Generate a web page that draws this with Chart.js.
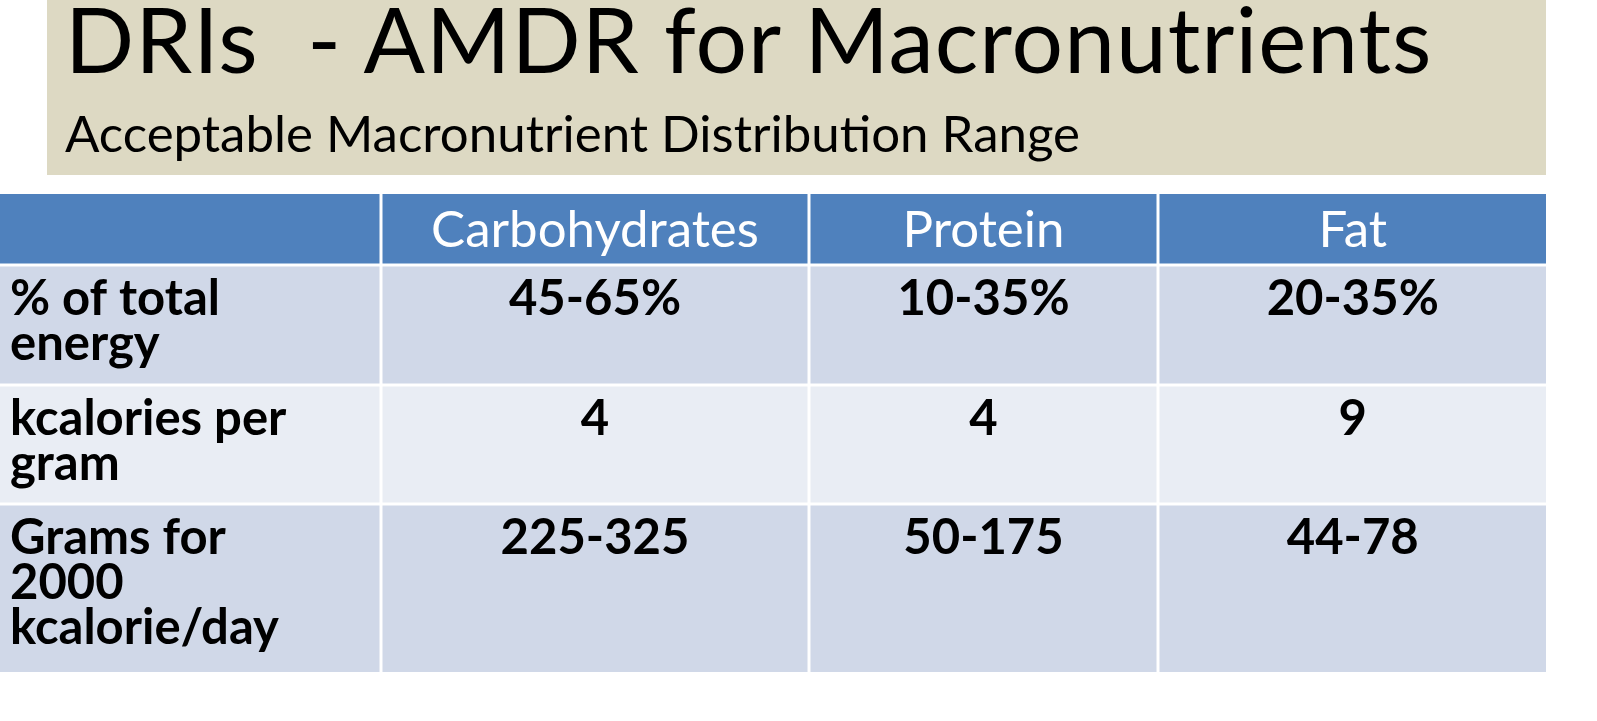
<!DOCTYPE html>
<html><head><meta charset="utf-8">
<script src="https://cdn.jsdelivr.net/npm/chart.js@4"></script>
<style>
html,body{margin:0;padding:0;background:#fff;width:1597px;height:721px;overflow:hidden;font-family:Lato,"Open Sans",sans-serif}
#banner{position:absolute;left:47px;top:0;width:1499px;height:175px;background:#ddd9c3}
#t{position:absolute;left:18px;top:-17px;font-size:91px;color:#000;white-space:pre;letter-spacing:1px}
#s{position:absolute;left:18px;top:102px;font-size:51px;color:#000;white-space:pre}
#c{position:absolute;left:0;top:0}
</style></head><body>
<div id="banner"><div id="t">DRIs  - AMDR for Macronutrients</div><div id="s">Acceptable Macronutrient Distribution Range</div></div>
<canvas id="c" width="1597" height="721" style="width:1597px;height:721px"></canvas>
<script>
const columns = ["", "Carbohydrates", "Protein", "Fat"];
const rowLabels = [["% of total","energy"],["kcalories per","gram"],["Grams for","2000","kcalorie/day"]];
const carbs = ["45-65%","4","225-325"];
const protein = ["10-35%","4","50-175"];
const fat = ["20-35%","9","44-78"];
const colEdges = [0,381,809,1158,1546];
const rowEdges = [194,265,385,504,672];
const gap = 3;
const headerColor = "#4f81bd", oddColor = "#d0d8e8", evenColor = "#e9edf4";

const tablePlugin = {
  id:'table',
  afterDraw(chart){
    const ctx = chart.ctx, xs = chart.scales.x, ys = chart.scales.y;
    const X = v=>xs.getPixelForValue(v), Y = v=>ys.getPixelForValue(v);
    const values = [carbs, protein, fat];
    for(let r=0;r<4;r++){
      for(let c=0;c<4;c++){
        const x0=X(colEdges[c])+(c>0?gap/2:0), x1=X(colEdges[c+1])-(c<3?gap/2:0);
        const y0=Y(rowEdges[r])+(r>0?gap/2:0), y1=Y(rowEdges[r+1])-(r<3?gap/2:0);
        ctx.fillStyle = r===0?headerColor:(r%2===1?oddColor:evenColor);
        ctx.fillRect(x0,y0,x1-x0,y1-y0);
        ctx.fillStyle = r===0?'#fff':'#000';
        if(r===0){
          ctx.font='51px Lato'; ctx.textAlign='center'; ctx.textBaseline='middle';
          ctx.fillText(columns[c],(x0+x1)/2,(y0+y1)/2+2);
        } else {
          ctx.font='bold 49px Lato'; ctx.textBaseline='alphabetic';
          const base=y0+48;
          if(c===0){
            ctx.textAlign='left';
            rowLabels[r-1].forEach((l,i)=>ctx.fillText(l,x0+10,base+i*45));
          } else {
            ctx.textAlign='center';
            ctx.fillText(values[c-1][r-1],(x0+x1)/2,base);
          }
        }
      }
    }
  }
};
new Chart(document.getElementById('c'),{
  type:'scatter',
  data:{datasets:[{data:[]}]},
  options:{responsive:false,animation:false,devicePixelRatio:1,
    layout:{padding:0},
    plugins:{legend:{display:false},tooltip:{enabled:false}},
    scales:{x:{type:'linear',min:0,max:1597,display:false},
            y:{type:'linear',min:0,max:721,reverse:true,display:false}}},
  plugins:[tablePlugin]
});
</script></body></html>
